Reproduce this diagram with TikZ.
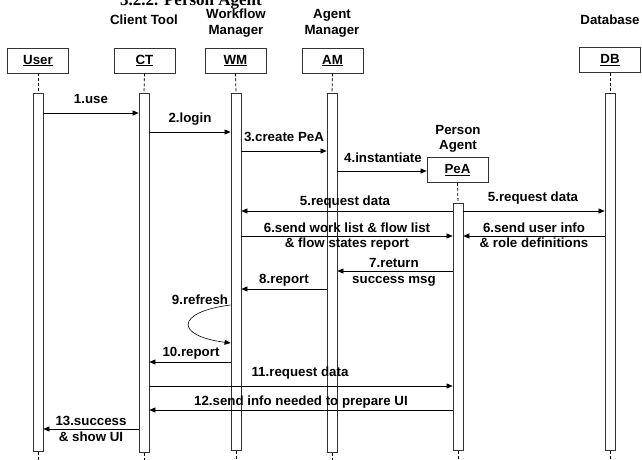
\documentclass[tikz,border=0pt]{standalone}
\usepackage{fontspec}
\setmainfont{Liberation Sans}
\newfontfamily\titlefont{Liberation Serif}
\usetikzlibrary{arrows.meta}
\tikzset{
  lbl/.style={font=\fontsize{13.3}{15}\selectfont\bfseries, inner sep=0pt, anchor=base},
  objbox/.style={draw=black!80, line width=0.8pt, fill=white, minimum width=61pt,
    minimum height=25pt, inner sep=0pt, font=\fontsize{13.3}{15}\selectfont\bfseries},
  actbar/.style={draw=black!80, line width=0.8pt, fill=white, minimum width=10pt,
    inner sep=0pt, anchor=north},
  life/.style={dashed, dash pattern=on 3pt off 2pt, line width=0.8pt},
  msg/.style={line width=0.6pt, -{Triangle[length=6pt,width=5pt]}},
}
\begin{document}
\begin{tikzpicture}[x=1pt,y=-1pt]
\useasboundingbox (0,0) rectangle (642,460);

% section heading, partly outside the frame
\node[inner sep=0pt, anchor=base west, font=\fontsize{17}{20}\selectfont\titlefont\bfseries]
  (heading) at (120,6) {3.2.2. Person Agent};

% role captions
\node[lbl] (capCT) at (144,25) {Client Tool};
\node[lbl] (capWM1) at (236,19) {Workflow};
\node[lbl] (capWM2) at (236,35) {Manager};
\node[lbl] (capAM1) at (332,19) {Agent};
\node[lbl] (capAM2) at (332,35) {Manager};
\node[lbl] (capDB) at (610,25) {Database};
\node[lbl] (capPA1) at (458,134) {Person};
\node[lbl] (capPA2) at (458,149) {Agent};

% object boxes
\node[objbox] (user) at (38,60.5) {\underline{User}};
\node[objbox] (ct) at (144.5,60.5) {\underline{CT}};
\node[objbox] (wm) at (235.5,60.5) {\underline{WM}};
\node[objbox] (am) at (332.5,60.5) {\underline{AM}};
\node[objbox] (db) at (610,60) {\underline{DB}};
\node[objbox] (pea) at (457.5,170) {\underline{PeA}};

% activation bars
\node[actbar, minimum height=358pt] (userA) at (38,93) {};
\node[actbar, minimum height=359pt] (ctA) at (144,93) {};
\node[actbar, minimum height=357pt] (wmA) at (236,93) {};
\node[actbar, minimum height=359pt] (amA) at (332,93) {};
\node[actbar, minimum height=357pt] (dbA) at (610,93) {};
\node[actbar, minimum height=247pt] (peaA) at (458,203) {};

% lifelines
\coordinate (userEnd) at (38,460);
\coordinate (ctEnd) at (144,460);
\coordinate (wmEnd) at (236,460);
\coordinate (amEnd) at (332,460);
\coordinate (dbEnd) at (610,460);
\coordinate (peaEnd) at (458,460);
\foreach \o in {user,ct,wm,am,db,pea}{
  \draw[life] (\o.south) -- (\o A.north);
  \draw[life] (\o A.south) -- (\o End);
}

% messages
\draw[msg] (userA.east |- 0,113) -- (ctA.west |- 0,113);
\node[lbl] (m1) at (91,103) {1.use};

\draw[msg] (ctA.east |- 0,132) -- (wmA.west |- 0,132);
\node[lbl] (m2) at (190,122) {2.login};

\draw[msg] (wmA.east |- 0,151) -- (amA.west |- 0,151);
\node[lbl] (m3) at (284,141) {3.create PeA};

\draw[msg] (amA.east |- 0,171) -- (pea.west |- 0,171);
\node[lbl] (m4) at (383,162) {4.instantiate};

\draw[msg] (peaA.west |- 0,211) -- (wmA.east |- 0,211);
\draw[msg] (peaA.east |- 0,211) -- (dbA.west |- 0,211);
\node[lbl] (m5a) at (345,205) {5.request data};
\node[lbl] (m5b) at (533,201) {5.request data};

\draw[msg] (wmA.east |- 0,236) -- (peaA.west |- 0,236);
\node[lbl] (m6a1) at (347,232) {6.send work list \& flow list};
\node[lbl] (m6a2) at (347,247) {\& flow states report};

\draw[msg] (dbA.west |- 0,236) -- (peaA.east |- 0,236);
\node[lbl] (m6b1) at (534,232) {6.send user info};
\node[lbl] (m6b2) at (534,247) {\& role definitions};

\draw[msg] (peaA.west |- 0,271) -- (amA.east |- 0,271);
\node[lbl] (m7a) at (394,267) {7.return};
\node[lbl] (m7b) at (394,283) {success msg};

\draw[msg] (amA.west |- 0,289) -- (wmA.east |- 0,289);
\node[lbl] (m8) at (284,283) {8.report};

\draw[msg] (wmA.west |- 0,305) .. controls (175,312) and (175,336) .. (wmA.west |- 0,343);
\node[lbl] (m9) at (200,304) {9.refresh};

\draw[msg] (wmA.west |- 0,362) -- (ctA.east |- 0,362);
\node[lbl] (m10) at (191,356) {10.report};

\draw[msg] (ctA.east |- 0,386) -- (peaA.west |- 0,386);
\node[lbl] (m11) at (300,376) {11.request data};

\draw[msg] (peaA.west |- 0,410) -- (ctA.east |- 0,410);
\node[lbl] (m12) at (301,405) {12.send info needed to prepare UI};

\draw[msg] (ctA.west |- 0,429) -- (userA.east |- 0,429);
\node[lbl] (m13a) at (91,425) {13.success};
\node[lbl] (m13b) at (91,441) {\& show UI};
\end{tikzpicture}
\end{document}
